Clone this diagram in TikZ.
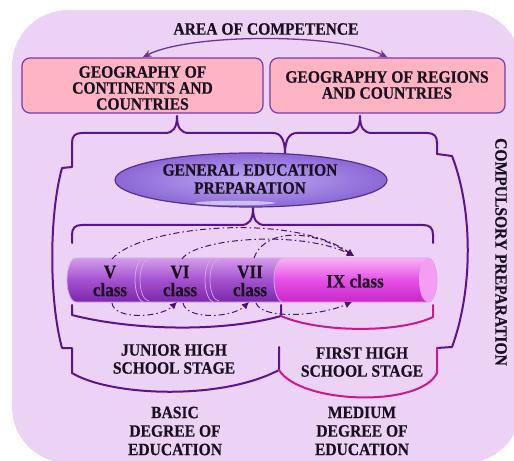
\documentclass[tikz,border=0pt]{standalone}
\usepackage{fontspec}
\setmainfont{Liberation Serif}[BoldFeatures={FakeStretch=0.9, FakeBold=0.4}]
\usetikzlibrary{arrows.meta,shapes.geometric}
\definecolor{bgc}{HTML}{ECD3F5}
\definecolor{pinkc}{HTML}{FFB4C4}
\definecolor{boxline}{HTML}{7A3AA8}
\definecolor{brc}{HTML}{5A148E}
\definecolor{magc}{HTML}{C81A8C}
\definecolor{txtc}{HTML}{1A1020}
\definecolor{ddc}{HTML}{4A1275}
\definecolor{segtop}{HTML}{D49CEC}
\definecolor{segmid}{HTML}{A452CF}
\definecolor{segbot}{HTML}{7A28AA}
\definecolor{ixtop}{HTML}{F8B2F6}
\definecolor{ixmid}{HTML}{E650E6}
\definecolor{ixbot}{HTML}{C828C8}
\definecolor{seglin}{HTML}{D6A6EA}
\definecolor{ellin}{HTML}{BFA8F2}
\definecolor{ellout}{HTML}{8B68D6}
\definecolor{elline}{HTML}{5A2D91}
\begin{document}
\begin{tikzpicture}[x=1bp,y=-1bp,
  txt/.style={font=\bfseries\fontsize{17.3bp}{18bp}\selectfont, align=center, inner sep=0pt, text=txtc},
  boxtxt/.style={txt, font=\bfseries\fontsize{17.3bp}{16bp}\selectfont},
  clstxt/.style={txt, font=\bfseries\fontsize{19bp}{18bp}\selectfont},
  pinkbox/.style={draw=boxline, fill=pinkc, line width=1.2bp, rounded corners=8bp, inner sep=0pt},
  brline/.style={draw=brc, line width=2bp, line join=round, line cap=round},
  magline/.style={draw=magc, line width=2bp, line join=round, line cap=round},
  seg/.style={draw=seglin, line width=0.8bp, top color=segtop, bottom color=segbot, middle color=segmid},
  segix/.style={draw=seglin, line width=0.8bp, top color=ixtop, bottom color=ixbot, middle color=ixmid},
  dd/.style={draw=ddc, line width=1bp, dash pattern=on 6bp off 3bp on 1.5bp off 3bp, -{Latex[length=7bp,width=7bp]}},
  areaarrow/.style={draw=boxline!90!black, line width=1.3bp, {Stealth[length=9bp,width=7bp]}-{Stealth[length=9bp,width=7bp]}}
]
\useasboundingbox (0,0) rectangle (514,461);
\fill[bgc, rounded corners=56bp] (12,10) rectangle (521,463);

% top boxes
\node[pinkbox, minimum width=241bp, minimum height=55bp] (boxL) at (142.5,85.5) {};
\node[pinkbox, minimum width=235bp, minimum height=55bp] (boxR) at (387.5,85.5) {};
\node[boxtxt] (tL) at (142.5,88) {GEOGRAPHY OF\\CONTINENTS AND\\COUNTRIES};
\node[boxtxt] (tR) at (387,85) {GEOGRAPHY OF REGIONS\\AND COUNTRIES};
\node[txt] (area) at (266,29) {AREA OF COMPETENCE};
\draw[areaarrow] (boxL.north) .. controls (190,33) and (340,33) .. (boxR.north);

% big outer bracket (purple)
\draw[brline] (72,373) -- (72,348) -- (62,348) .. controls (49,300) and (49,215) .. (62,168) -- (72,167) -- (72,143)
  .. controls (72,136) and (75,133) .. (82,133) -- (165,133)
  .. controls (173,133) and (177,128) .. (177,116)
  .. controls (177,128) and (181,133) .. (189,133) -- (273,133)
  .. controls (281,133) and (285,140) .. (285,154)
  .. controls (285,140) and (289,133) .. (297,133) -- (348,133)
  .. controls (356,133) and (360,128) .. (360,116)
  .. controls (360,128) and (364,133) .. (372,133) -- (427,133)
  .. controls (434,133) and (437,136) .. (437,143) -- (437,154) -- (452,156)
  .. controls (473,210) and (473,290) .. (452,347) -- (437,348);
\draw[brline] (72,373) .. controls (110,396) and (220,401) .. (279,370) -- (279,347);
\draw[magline] (279,370) .. controls (300,404) and (420,408) .. (437,373) -- (437,348);

% ellipse
\node[ellipse, draw=elline, line width=1.2bp, inner color=ellin, outer color=ellout,
      minimum width=272bp, minimum height=54bp, inner sep=0pt] (gepell) at (251,180) {};
\fill[white, opacity=0.55] (235,203) ellipse [x radius=40bp, y radius=2.2bp];
\node[txt] (gep) at (250,179) {GENERAL EDUCATION\\PREPARATION};

% inner bracket under ellipse
\draw[brline] (72,243) -- (72,235) .. controls (72,228) and (75,225) .. (82,225) -- (241,225)
  .. controls (249,225) and (253,220) .. (253,208)
  .. controls (253,220) and (257,225) .. (265,225) -- (423,225)
  .. controls (430,225) and (433,228) .. (433,235) -- (433,243);

% cylinder segments
\path[seg] (76,258) arc[start angle=90,end angle=270,x radius=9bp,y radius=22bp] -- (144,302) arc[start angle=270,end angle=450,x radius=9bp,y radius=22bp] -- cycle;
\path[seg] (144,258) arc[start angle=90,end angle=270,x radius=9bp,y radius=22bp] -- (214,302) arc[start angle=270,end angle=450,x radius=9bp,y radius=22bp] -- cycle;
\path[seg] (214,258) arc[start angle=90,end angle=270,x radius=9bp,y radius=22bp] -- (283,302) arc[start angle=270,end angle=450,x radius=9bp,y radius=22bp] -- cycle;
\path[segix] (283,258) arc[start angle=90,end angle=270,x radius=9bp,y radius=22bp] -- (428,302) arc[start angle=270,end angle=450,x radius=9bp,y radius=22bp] -- cycle;
\fill[ixtop!80!ixmid] (428,280) ellipse [x radius=9bp, y radius=22bp];
\draw[seglin, line width=0.7bp] (149,259) arc[start angle=90,end angle=270,x radius=9bp,y radius=21bp];
\draw[seglin, line width=0.7bp] (219,259) arc[start angle=90,end angle=270,x radius=9bp,y radius=21bp];

\node[clstxt] (c5) at (110,281) {V\\class};
\node[clstxt] (c6) at (180,281) {VI\\class};
\node[clstxt] (c7) at (250,281) {VII\\class};
\node[clstxt] (c9) at (355,281) {IX class};

% dash-dot arrows
\coordinate (vT) at (112,259);
\coordinate (viT) at (182,259);
\coordinate (viiT) at (254,258);
\coordinate (ixT) at (354,256);
\coordinate (vB) at (112,303);
\coordinate (viB) at (177,302);
\coordinate (viiB) at (249,302);
\coordinate (viB2) at (183,303);
\coordinate (viiB2) at (256,303);
\coordinate (ixB) at (352,302);
\draw[dd] (vT) .. controls (140,226) and (292,212) .. (ixT);
\draw[dd] (viT) .. controls (196,238) and (300,230) .. (ixT);
\draw[dd] (viiT) .. controls (262,234) and (302,224) .. (ixT);
\draw[dd] (vB) .. controls (114,320) and (160,318) .. (viB);
\draw[dd] (viB2) .. controls (186,320) and (232,318) .. (viiB);
\draw[dd] (viiB2) .. controls (262,320) and (320,316) .. (ixB);

% brackets under cylinder
\draw[brline] (72,305) -- (72,315) .. controls (130,330) and (220,333) .. (281,316) -- (281,305);
\draw[magline] (281,316) .. controls (320,333) and (400,333) .. (433,317) -- (433,305);

% bottom texts
\node[txt] (jun) at (174,359) {JUNIOR HIGH\\SCHOOL STAGE};
\node[txt] (fir) at (362,362) {FIRST HIGH\\SCHOOL STAGE};
\node[txt, font=\bfseries\fontsize{17.3bp}{18.5bp}\selectfont] (bas) at (175,431) {BASIC\\DEGREE OF\\EDUCATION};
\node[txt, font=\bfseries\fontsize{17.3bp}{18.5bp}\selectfont] (med) at (362,431) {MEDIUM\\DEGREE OF\\EDUCATION};
\node[txt, rotate=-90] (comp) at (501,252) {COMPULSORY PREPARATION};
\end{tikzpicture}
\end{document}
